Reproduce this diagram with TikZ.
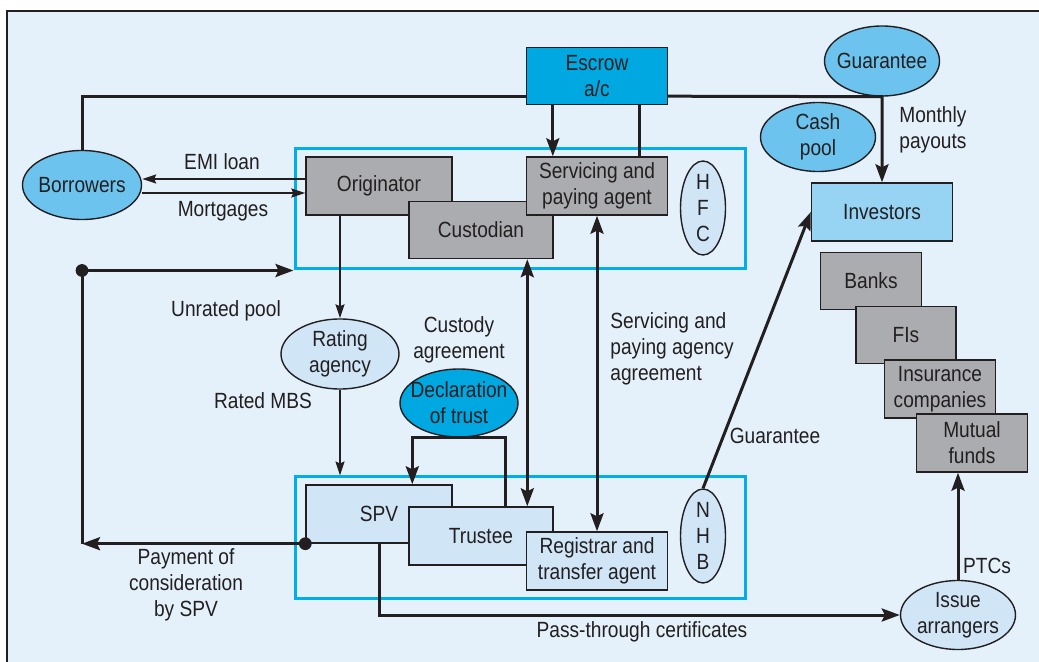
\documentclass[tikz,border=0pt]{standalone}
\usepackage{fontspec}
\setmainfont{Liberation Sans}[FakeStretch=0.87]
\usepackage{tikz}
\usetikzlibrary{shapes.geometric,arrows.meta,calc}
\definecolor{bgblue}{HTML}{E4F1FB}
\definecolor{inkgray}{HTML}{231F20}
\definecolor{boxgray}{HTML}{ABACAF}
\definecolor{skyblue}{HTML}{6CC4EE}
\definecolor{deepcyan}{HTML}{00A8E1}
\definecolor{paleblue}{HTML}{D0E6F7}
\definecolor{midblue}{HTML}{97D3F3}
\definecolor{framecyan}{HTML}{00AEEF}
\tikzset{>={Stealth[length=9pt,width=6.5pt,inset=1.5pt]}}
\tikzset{
  every node/.style={text=inkgray,font=\fontsize{11}{13}\selectfont},
  party/.style={shape=rectangle,draw=inkgray,line width=0.7pt,inner sep=0pt,align=center},
  graybox/.style={party,fill=boxgray},
  palebox/.style={party,fill=paleblue},
  oval/.style={shape=ellipse,draw=inkgray,line width=0.7pt,inner sep=0pt},
  ovaltext/.style={align=center,inner sep=0pt},
  heavy/.style={draw=inkgray,line width=1.5pt},
  light/.style={draw=inkgray,line width=0.8pt,>={Stealth[length=7pt,width=4.5pt,inset=1pt]}},
  group/.style={shape=rectangle,draw=framecyan,line width=1.5pt,inner sep=0pt},
  caption/.style={align=center,inner sep=0pt},
}

\begin{document}
\begin{tikzpicture}[x=0.5pt,y=-0.5pt]
\useasboundingbox (0,0) rectangle (1039,662);
\fill[white] (0,0) rectangle (1039,662);
\fill[bgblue] (7,11) rectangle (1039,662);
\draw[inkgray,line width=0.8pt] (7,662) -- (7,11) -- (1039,11);

% groups
\path (520,209) node (hfcgroup) [group,minimum width=225pt,minimum height=60pt] {};
\path (520,537.5) node (nhbgroup) [group,minimum width=225pt,minimum height=60.5pt] {};

% parties
\path (82,185) node (borrowers) [oval,fill=skyblue,minimum width=59.5pt,minimum height=34.5pt,label={[ovaltext]center:Borrowers}] {};
\path (597,76) node (escrow) [party,fill=deepcyan,minimum width=70.5pt,minimum height=28.5pt] {Escrow\\a/c};
\path (882,61) node (guarantee) [oval,fill=skyblue,minimum width=57.5pt,minimum height=35pt,label={[ovaltext]center:Guarantee}] {};
\path (818,137) node (cashpool) [oval,fill=skyblue,minimum width=57.5pt,minimum height=34.5pt,label={[ovaltext]center:{Cash\\pool}}] {};
\path (882,212) node (investors) [party,fill=midblue,minimum width=70.5pt,minimum height=29pt] {Investors};

\path (379,186) node (originator) [graybox,minimum width=73pt,minimum height=29pt] {Originator};
\path (481,230) node (custodian) [graybox,minimum width=72pt,minimum height=28.5pt] {Custodian};
\path (597,186) node (servicer) [graybox,minimum width=70.5pt,minimum height=29pt] {Servicing and\\paying agent};
\path (703,208) node (hfc) [oval,fill=paleblue,minimum width=22.5pt,minimum height=47pt,label={[ovaltext]center:{H\\F\\C}}] {};

\path (340,354) node (rating) [oval,fill=paleblue,minimum width=59pt,minimum height=35pt,label={[ovaltext]center:{Rating\\agency}}] {};
\path (459,403) node (decl) [oval,fill=deepcyan,minimum width=59pt,minimum height=34pt,label={[ovaltext]center:{Declaration\\of trust}}] {};

\path (379,514) node (spv) [palebox,minimum width=73pt,minimum height=29pt] {SPV};
\path (481,536) node (trustee) [palebox,minimum width=72pt,minimum height=29pt] {Trustee};
\path (597,561) node (registrar) [palebox,minimum width=70.5pt,minimum height=29pt] {Registrar and\\transfer agent};
\path (703,536) node (nhb) [oval,fill=paleblue,minimum width=22.5pt,minimum height=47pt,label={[ovaltext]center:{N\\H\\B}}] {};

\path (871,281) node (banks) [graybox,minimum width=50.5pt,minimum height=28.5pt] {Banks};
\path (906,335) node (fis) [graybox,minimum width=50pt,minimum height=28.5pt] {FIs};
\path (940,389) node (insurers) [graybox,minimum width=55.5pt,minimum height=29pt] {Insurance\\companies};
\path (972,443) node (mutual) [graybox,minimum width=55.5pt,minimum height=29pt] {Mutual\\funds};
\path (958,615) node (issue) [oval,fill=paleblue,minimum width=57.5pt,minimum height=34.5pt,label={[ovaltext]center:{Issue\\arrangers}}] {};

% captions
\path (222,162) node (emilbl) [caption] {EMI loan};
\path (223,211) node (mortlbl) [caption] {Mortgages};
\path (226,311) node (unratedlbl) [caption] {Unrated pool};
\path (263,401) node (ratedlbl) [caption] {Rated MBS};
\path (459,340) node (custodylbl) [caption] {Custody\\agreement};
\path (610,349) node (agencylbl) [caption,anchor=west,align=left] {Servicing and\\paying agency\\agreement};
\path (775,436) node (guarlbl) [caption] {Guarantee};
\path (899,130) node (payoutlbl) [caption,anchor=west,align=left] {Monthly\\payouts};
\path (987,566) node (ptclbl) [caption] {PTCs};
\path (642,632) node (ptlbl) [caption] {Pass-through certificates};
\path (186,585) node (paylbl) [caption] {Payment of\\consideration\\by SPV};

% connectors
\draw[heavy] (borrowers.north) |- ($(escrow.south west)+(0,-9)$);
\draw[heavy,->] ($(escrow.south east)+(0,-9)$) -- (guarantee.south) -- (investors.north);
\draw[heavy,->] ($(escrow.south west)+(27,0)$) -- ($(servicer.north west)+(27,0)$);
\draw[heavy] ($(escrow.south west)+(114,0)$) -- ($(servicer.north west)+(114,0)$);

\draw[light,->] ($(originator.west)+(0,-7)$) -- ($(borrowers.east)+(0,-6)$);
\draw[light,->] ($(borrowers.east)+(0,8)$) -- ($(originator.west)+(0,7)$);
\draw[light,->] (rating.north |- originator.south) -- (rating.north);
\draw[light,->] (rating.south) -- (rating.south |- nhbgroup.north);

\draw[heavy,->] ($(trustee.north west)+(97,0)$) |- (decl.south) -| ($(spv.north west)+(107,0)$);
\draw[heavy,<->] ($(custodian.south west)+(119,0)$) -- ($(trustee.north west)+(119,0)$);
\draw[heavy,<->] (servicer.south) -- (registrar.north);
\draw[heavy,->] (nhb.north) -- (investors.west);

\draw[heavy,->] (spv.south west) -- (borrowers |- spv.south west);
\draw[heavy,->] (borrowers |- spv.south west) -- (borrowers |- hfcgroup.south west) -- (hfcgroup.south west);
\fill[inkgray] (spv.south west) circle (3.2pt);
\fill[inkgray] (borrowers |- hfcgroup.south west) circle (3.2pt);

\draw[heavy,->] (spv.south) |- (issue.west);
\draw[heavy,->] (issue.north) -- (issue.north |- mutual.south);

\end{tikzpicture}
\end{document}
